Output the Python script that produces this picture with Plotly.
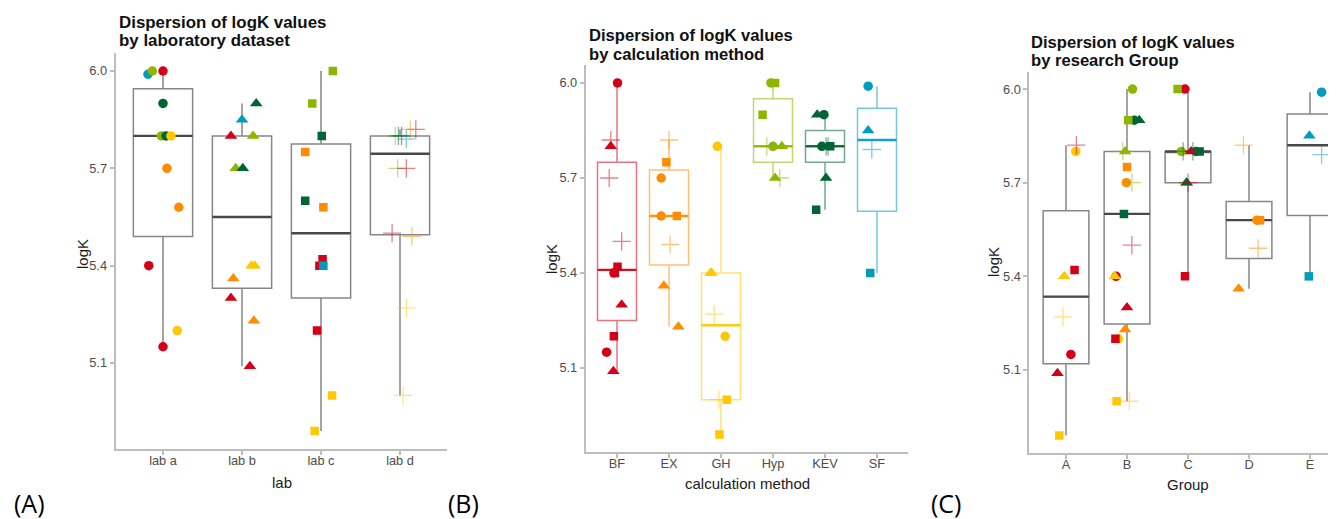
import numpy as np
import plotly.graph_objects as go

# ---------------- data ----------------
values = [5.99, 6.00, 6.00, 5.90, 5.80, 5.80, 5.80, 5.70, 5.58, 5.40, 5.15, 5.20,
          5.80, 5.85, 5.80, 5.90, 5.70, 5.70, 5.40, 5.40, 5.36, 5.30, 5.23, 5.09,
          6.00, 5.90, 5.80, 5.75, 5.60, 5.58, 5.42, 5.40, 5.40, 5.20, 5.00, 4.89,
          5.82, 5.82, 5.80, 5.80, 5.79, 5.70, 5.70, 5.50, 5.49, 5.27, 5.00, 5.80]
labs = ["lab a"] * 12 + ["lab b"] * 12 + ["lab c"] * 12 + ["lab d"] * 12
methods = ["SF", "Hyp", "BF", "KEV", "Hyp", "KEV", "GH", "EX", "EX", "BF", "BF", "GH",
           "BF", "SF", "Hyp", "KEV", "Hyp", "KEV", "GH", "GH", "EX", "BF", "EX", "BF",
           "Hyp", "Hyp", "KEV", "EX", "KEV", "EX", "BF", "BF", "SF", "BF", "GH", "GH",
           "BF", "EX", "Hyp", "KEV", "SF", "Hyp", "BF", "BF", "EX", "GH", "GH", "KEV"]
groups = ["E", "B", "C", "B", "C", "C", "A", "B", "D", "B", "A", "B",
          "C", "E", "B", "B", "C", "C", "A", "B", "D", "B", "B", "A",
          "C", "B", "C", "B", "B", "D", "A", "C", "E", "B", "B", "A",
          "A", "D", "B", "C", "E", "B", "C", "B", "D", "A", "B", "C"]
# horizontal jitter of each point in each panel
jit_lab = [-0.19, -0.135, 0.0, 0.0, -0.02, 0.04, 0.10, 0.05, 0.20, -0.18, 0.0, 0.18,
           -0.14, 0.0, 0.14, 0.18, -0.08, 0.01, 0.12, 0.16, -0.11, -0.14, 0.15, 0.10,
           0.15, -0.11, 0.01, -0.20, -0.20, 0.03, 0.02, -0.02, 0.03, -0.05, 0.14, -0.08,
           0.20, 0.13, -0.06, -0.02, 0.08, -0.03, 0.08, -0.10, 0.15, 0.08, 0.04, 0.02]
jit_method = [-0.17, -0.04, 0.01, -0.02, 0.0, -0.06, -0.07, -0.15, -0.15, -0.06, -0.20, 0.08,
              -0.12, -0.17, 0.17, -0.15, 0.04, 0.02, -0.20, -0.18, -0.10, 0.09, 0.18, -0.07,
              0.04, -0.20, 0.10, -0.05, -0.17, 0.15, 0.01, -0.04, -0.13, -0.06, 0.11, -0.03,
              -0.12, 0.0, -0.12, 0.02, -0.10, 0.13, -0.15, 0.09, 0.02, -0.13, -0.04, 0.06]
jit_group = [0.19, 0.09, -0.05, 0.12, -0.11, 0.13, 0.16, -0.01, 0.13, -0.18, 0.08, -0.14,
             0.05, -0.01, -0.03, 0.20, -0.03, -0.02, -0.03, -0.20, -0.17, 0.0, -0.03, -0.14,
             -0.17, 0.02, 0.19, 0.0, -0.05, 0.18, 0.14, -0.05, -0.02, -0.19, -0.17, -0.11,
             0.17, -0.09, -0.07, -0.08, 0.19, 0.08, 0.0, 0.08, 0.15, -0.05, 0.04, 0.08]

lab_cats = ["lab a", "lab b", "lab c", "lab d"]
method_cats = ["BF", "EX", "GH", "Hyp", "KEV", "SF"]
group_cats = ["A", "B", "C", "D", "E"]
y_ticks = [5.1, 5.4, 5.7, 6.0]

# ---------------- styles ----------------
method_rgb = {"BF": (212, 0, 24), "EX": (255, 140, 0), "GH": (255, 200, 0),
              "Hyp": (141, 182, 0), "KEV": (0, 100, 52), "SF": (0, 156, 190)}
lab_symbol = {"lab a": "circle", "lab b": "triangle-up", "lab c": "square", "lab d": "cross-thin"}
lab_size = {"lab a": 9.5, "lab b": 11, "lab c": 8.5, "lab d": 13}
FONT = "Liberation Sans, Arial, sans-serif"
AXIS_GREY = "#BDBDBD"
OFF = 8                      # default body margin of the html page
W, H = 1336 - OFF, 519 - OFF


def px(x):
    return (x - OFF) / W


def py(y):
    return (H - (y - OFF)) / H


def rgba(m, a=1.0):
    r, g, b = method_rgb[m]
    return f"rgba({r},{g},{b},{a})"


vals = np.array(values)
labs_a = np.array(labs)
meth_a = np.array(methods)
grp_a = np.array(groups)

panels = [
    dict(key=labs_a, cats=lab_cats, jit=np.array(jit_lab), xa="x", ya="y", colored=False),
    dict(key=meth_a, cats=method_cats, jit=np.array(jit_method), xa="x2", ya="y2", colored=True),
    dict(key=grp_a, cats=group_cats, jit=np.array(jit_group), xa="x3", ya="y3", colored=False),
]

fig = go.Figure()
BOXW = 0.75
for p in panels:
    for i, c in enumerate(p["cats"]):
        sel = vals[p["key"] == c]
        if p["colored"]:
            lc, mc = rgba(c, 0.55), rgba(c, 0.9)
        else:
            lc, mc = "#868686", "#484848"
        fig.add_trace(go.Box(x=[i] * len(sel), y=sel, width=BOXW, boxpoints=False,
                             whiskerwidth=0, fillcolor="white", quartilemethod="linear",
                             line=dict(color=lc, width=1.5), xaxis=p["xa"], yaxis=p["ya"],
                             hoverinfo="skip"))
        med = float(np.median(sel))
        fig.add_trace(go.Scatter(x=[i - BOXW / 2, i + BOXW / 2], y=[med, med], mode="lines",
                                 line=dict(color=mc, width=2.4), xaxis=p["xa"], yaxis=p["ya"],
                                 hoverinfo="skip"))
    pos = np.array([p["cats"].index(k) for k in p["key"]]) + p["jit"]
    for lab in lab_cats:
        m = labs_a == lab
        if lab == "lab d":
            cols = [rgba(mm, 0.5) for mm in meth_a[m]]
            marker = dict(symbol=lab_symbol[lab], size=lab_size[lab],
                          line=dict(color=cols, width=1.3))
        else:
            cols = [rgba(mm) for mm in meth_a[m]]
            marker = dict(symbol=lab_symbol[lab], size=lab_size[lab], color=cols,
                          line=dict(width=0))
        fig.add_trace(go.Scatter(x=pos[m], y=vals[m], mode="markers", marker=marker,
                                 xaxis=p["xa"], yaxis=p["ya"], hoverinfo="skip"))

# ---------------- axes ----------------
yr = [4.8345, 6.0555]
common = dict(showline=True, linecolor=AXIS_GREY, linewidth=2, ticks="outside", ticklen=4,
              tickcolor=AXIS_GREY, tickwidth=1.5, showgrid=False, zeroline=False,
              tickfont=dict(family=FONT, size=12.8, color="#4D4D4D"))
common_x = dict(common, ticklabelstandoff=-5)
common_y = dict(common, tickvals=y_ticks, ticktext=[f"{v:.1f}" for v in y_ticks], range=yr)

fig.update_layout(
    width=W, height=H, margin=dict(l=0, r=0, t=0, b=0),
    paper_bgcolor="white", plot_bgcolor="white", showlegend=False,
    xaxis=dict(common_x, domain=[px(115.6), px(447.4)], range=[-0.6, 3.6],
               tickvals=list(range(len(lab_cats))), ticktext=lab_cats, anchor="y"),
    yaxis=dict(common_y, domain=[py(449.1), py(53.0)], anchor="x"),
    xaxis2=dict(common_x, domain=[px(585.8), px(908.2)], range=[-0.6, 5.6],
                tickvals=list(range(len(method_cats))), ticktext=method_cats, anchor="y2"),
    yaxis2=dict(common_y, domain=[py(452.1), py(65.4)], anchor="x2"),
    xaxis3=dict(common_x, domain=[px(1029.4), 1.0], range=[-0.6, 4.426],
                tickvals=list(range(len(group_cats))), ticktext=group_cats, anchor="y3"),
    yaxis3=dict(common_y, domain=[py(452.9), py(71.7)], anchor="x3"),
)


def ann(text, x, y, size, color="#1A1A1A", xanchor="center", angle=0, family=FONT):
    fig.add_annotation(text=text, x=px(x), y=py(y), xref="paper", yref="paper",
                       xanchor=xanchor, yanchor="middle", showarrow=False, textangle=angle,
                       font=dict(family=family, size=size, color=color))


# titles (two lines each)
titles = [("Dispersion of logK values", "by laboratory dataset", 116.5, 22.0, 40.8, 16.9),
          ("Dispersion of logK values", "by calculation method", 586.5, 35.6, 54.0, 16.6),
          ("Dispersion of logK values", "by research Group", 1028.5, 42.2, 60.5, 16.6)]
for l1, l2, x, y1, y2, fs in titles:
    ann(f"<b>{l1}</b>", x, y1, fs, color="#111111", xanchor="left")
    ann(f"<b>{l2}</b>", x, y2, fs, color="#111111", xanchor="left")

# axis titles
ann("lab", 281.5, 482, 15)
ann("calculation method", 747, 483, 15)
ann("Group", 1188, 484, 15)
ann("logK", 82, 254, 15, angle=-90)
ann("logK", 551, 259, 15, angle=-90)
ann("logK", 993, 262, 15, angle=-90)

# panel letters
ann("(A)", 29.5, 503, 25, color="#000000", family="Open Sans, sans-serif")
ann("(B)", 463.5, 503, 25, color="#000000", family="Open Sans, sans-serif")
ann("(C)", 946.5, 503, 25, color="#000000", family="Open Sans, sans-serif")

fig.write_html("out.html")
